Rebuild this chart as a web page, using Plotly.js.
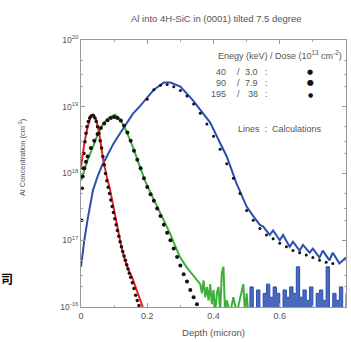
<!DOCTYPE html>
<html><head><meta charset="utf-8">
<script src="https://cdn.plot.ly/plotly-3.0.1.min.js"></script>
<style>html,body{margin:0;padding:0;background:#fff;}#c{width:351px;height:342px;}</style>
</head><body><div id="c"></div>
<script>
// ---- data (depth in micron, concentration in cm^-3) ----
const calc40Depth = [0,0.01,0.02,0.03,0.037,0.045,0.055,0.067,0.078,0.088,0.1,0.112,0.122,0.133,0.144,0.154,0.165,0.175,0.185,0.19];
const calc40Conc  = [1.26e18,2.8e18,5.0e18,7.1e18,7.6e18,6.6e18,4.0e18,1.6e18,8.9e17,5.6e17,2.8e17,1.4e17,7.9e16,5.0e16,3.5e16,2.8e16,2.0e16,1.4e16,1.05e16,8e15];

const calc90Depth = [0,0.02,0.036,0.05,0.067,0.085,0.103,0.12,0.138,0.158,0.178,0.193,0.208,0.224,0.239,0.254,0.269,0.284,0.299,0.318,0.338,0.355,
  0.36,0.365,0.37,0.375,0.38,0.385,0.39,0.395,0.4,0.405,0.41,0.415,0.42,0.425,0.43,0.435,0.44,0.45,0.46,0.47,0.48,0.49,0.495,0.5,0.505];
const calc90Conc  = [7.9e17,1.6e18,2.5e18,3.8e18,5.6e18,6.9e18,7.6e18,6.3e18,4.2e18,2.4e18,1.26e18,7.9e17,5.4e17,3.7e17,2.5e17,1.8e17,1.26e17,8.3e16,5.6e16,4.0e16,3.0e16,2.4e16,
  2.2e16,1.6e16,2.5e16,1.4e16,2.0e16,1.26e16,2.2e16,1.1e16,1.8e16,8e15,1.6e16,2.0e16,8e15,3.2e16,4.0e16,8e15,1.26e16,8e15,1.4e16,8e15,1.26e16,2.2e16,8e15,1.6e16,8e15];

const calc195Depth = [0,0.01,0.021,0.036,0.05,0.063,0.078,0.098,0.118,0.138,0.157,0.18,0.2,0.22,0.239,0.25,0.27,0.3,0.338,0.36,0.39,0.415,0.44,0.47,0.5,0.52,0.54,
  0.55,0.57,0.58,0.6,0.61,0.63,0.64,0.66,0.67,0.69,0.7,0.72,0.73,0.75,0.76,0.78,0.8];
const calc195Conc  = [4e16,1.0e17,2.2e17,5.6e17,9e17,1.3e18,1.8e18,2.8e18,4.0e18,5.6e18,7.9e18,1.05e19,1.4e19,1.8e19,2.1e19,2.3e19,2.3e19,2.0e19,1.25e19,9e18,5.8e18,3.2e18,1.8e18,7e17,3.2e17,2.3e17,1.7e17,
  1.6e17,1.2e17,1.4e17,1.0e17,1.2e17,8e16,9.5e16,7e16,8.5e16,6.5e16,7.5e16,5.5e16,7e16,5e16,6.5e16,4.5e16,5.5e16];

const tail195Depth = [0.5,0.51,0.52,0.53,0.54,0.55,0.56,0.57,0.58,0.59,0.6,0.61,0.62,0.63,0.64,0.65,0.66,0.67,0.68,0.69,0.7,0.71,0.72,0.73,0.74,0.75,0.76,0.77,0.78,0.79,0.8];
const tail195Conc  = [8e15,2.0e16,8e15,1.8e16,8e15,1.6e16,2.2e16,1.4e16,2.0e16,1.6e16,8e15,1.8e16,1.4e16,2.0e16,1.6e16,4.0e16,1.4e16,1.8e16,1.26e16,2.0e16,8e15,1.6e16,1.8e16,1.26e16,4.0e16,8e15,1.6e16,1.26e16,2.0e16,8e15,1.6e16];

const sims40Depth = [0.002,0.004,0.006,0.009,0.012,0.015,0.018,0.022,0.026,0.03,0.034,0.038,0.042,0.046,0.05,0.054,0.058,0.062,0.066,0.07,0.074,0.078,0.082,0.086,0.09,0.094,0.098,0.102,0.106,0.11,0.114,0.118,0.122,0.126,0.13,0.134,0.138,0.142,0.146,0.15,0.155,0.16,0.165,0.17,0.175];
const sims40Conc  = [2.0e17,6e17,1.2e18,2.0e18,3.0e18,4.0e18,5.0e18,6.0e18,6.8e18,7.2e18,7.4e18,7.3e18,6.8e18,6.0e18,5.0e18,4.0e18,3.1e18,2.4e18,1.8e18,1.35e18,1.0e18,7.8e17,6.2e17,5.0e17,4.0e17,3.2e17,2.6e17,2.1e17,1.7e17,1.4e17,1.15e17,9.5e16,8e16,6.8e16,5.8e16,5e16,4.3e16,3.7e16,3.2e16,2.8e16,2.3e16,1.9e16,1.5e16,1.25e16,1.05e16];

const sims90Depth = [0.005,0.01,0.015,0.02,0.03,0.04,0.05,0.06,0.07,0.08,0.09,0.1,0.11,0.12,0.13,0.14,0.15,0.16,0.17,0.18,0.19,0.2,0.21,0.22,0.23,0.24,0.25,0.26,0.27,0.28,0.29,0.3,0.31,0.32,0.33,0.34,0.35,0.36];
const sims90Conc  = [9e17,1.2e18,1.5e18,1.8e18,2.4e18,3.1e18,3.9e18,4.8e18,5.6e18,6.3e18,6.8e18,7.0e18,6.8e18,6.2e18,5.2e18,4.1e18,3.1e18,2.2e18,1.6e18,1.2e18,8.5e17,6.3e17,4.9e17,3.9e17,3.0e17,2.3e17,1.7e17,1.3e17,1.0e17,7.5e16,5.6e16,4.2e16,3.1e16,2.4e16,1.8e16,1.4e16,1.1e16,9e15];

const sims195Depth = [0.2,0.22,0.24,0.26,0.28,0.3,0.32,0.34,0.36,0.38,0.4,0.42,0.44,0.46,0.48,0.5,0.52,0.54,0.56,0.58,0.6,0.62,0.64,0.66,0.68,0.7,0.72,0.74,0.76];
const sims195Conc  = [1.3e19,1.8e19,2.1e19,2.15e19,2.0e19,1.75e19,1.45e19,1.1e19,8e18,5.5e18,3.6e18,2.3e18,1.4e18,8.5e17,5e17,2.8e17,2.0e17,1.5e17,1.2e17,1.05e17,9e16,8e16,7e16,6.5e16,6e16,5.5e16,5e16,4.7e16,4.5e16];

const yTickVals   = [1e16,1e17,1e18,1e19,1e20];
const yTickLabels = ["10<sup>-16</sup>","10<sup>17</sup>","10<sup>18</sup>","10<sup>19</sup>","10<sup>20</sup>"];
const legendEnergy = ["40","90","195"];
const legendDose   = ["3.0","7.9","38"];

// ---- layout helpers (pixel -> paper) ----
const L=81, T=40, W=265, H=267;
const px = x => (x-L)/W;
const py = y => (T+H-y)/H;
const gray = '#555';
const fnt = s => ({family:'Liberation Sans, Arial, sans-serif', size:s, color:gray});

const traces = [
  {x:tail195Depth, y:tail195Conc, mode:'lines', line:{color:'#2a4fb0', width:1, shape:'hv'}, fill:'tozeroy', fillcolor:'rgba(42,79,176,0.85)'},
  {x:calc195Depth, y:calc195Conc, mode:'lines', line:{color:'#2a4fb0', width:2}},
  {x:calc90Depth, y:calc90Conc, mode:'lines', line:{color:'#3fae3a', width:2}},
  {x:calc40Depth, y:calc40Conc, mode:'lines', line:{color:'#e0262a', width:2}},
  {x:sims195Depth, y:sims195Conc, mode:'markers', marker:{color:'#111', size:3}},
  {x:sims90Depth, y:sims90Conc, mode:'markers', marker:{color:'#111', size:4}},
  {x:sims40Depth, y:sims40Conc, mode:'markers', marker:{color:'#2a0a0a', size:3.5}}
];

const ann = [];
ann.push({xref:'paper',yref:'paper',x:px(216),y:py(18),text:'Al into 4H-SiC in (0001) tilted 7.5 degree',showarrow:false,font:fnt(9.5),xanchor:'center',yanchor:'middle'});
ann.push({xref:'paper',yref:'paper',x:px(344),y:py(55),text:'Enegy (keV) / Dose (10<sup>13</sup> cm<sup>-2</sup>)',showarrow:false,font:fnt(9),xanchor:'right',yanchor:'middle'});
const rowY=[72,83,94], dotSize=[7,8,6];
for(let i=0;i<3;i++){
  ann.push({xref:'paper',yref:'paper',x:px(228),y:py(rowY[i]),text:legendEnergy[i],showarrow:false,font:fnt(9),xanchor:'right',yanchor:'middle'});
  ann.push({xref:'paper',yref:'paper',x:px(238),y:py(rowY[i]),text:'/',showarrow:false,font:fnt(9),xanchor:'center',yanchor:'middle'});
  ann.push({xref:'paper',yref:'paper',x:px(260),y:py(rowY[i]),text:legendDose[i],showarrow:false,font:fnt(9),xanchor:'right',yanchor:'middle'});
  ann.push({xref:'paper',yref:'paper',x:px(266),y:py(rowY[i]),text:':',showarrow:false,font:fnt(9),xanchor:'center',yanchor:'middle'});
  ann.push({xref:'paper',yref:'paper',x:px(310),y:py(rowY[i]),text:'●',showarrow:false,font:{family:'DejaVu Sans',size:dotSize[i],color:'#111'},xanchor:'center',yanchor:'middle'});
}
ann.push({xref:'paper',yref:'paper',x:px(280),y:py(129),text:'Lines  :  Calculations',showarrow:false,font:fnt(9),xanchor:'center',yanchor:'middle'});
ann.push({xref:'paper',yref:'paper',x:px(22),y:py(157),text:'Al Concentration (cm<sup>-3</sup>)',textangle:-90,showarrow:false,font:fnt(7.5),xanchor:'center',yanchor:'middle'});
ann.push({xref:'paper',yref:'paper',x:px(-1),y:py(278),text:'<b>司</b>',showarrow:false,font:{family:'Noto Sans CJK SC',size:12,color:'#000'},xanchor:'left',yanchor:'middle'});

const layout = {
  width:351, height:342,
  margin:{l:L, r:351-L-W, t:T, b:342-T-H},
  paper_bgcolor:'#fff', plot_bgcolor:'#fff',
  showlegend:false,
  xaxis:{range:[0,0.8], dtick:0.2, tick0:0, showgrid:false, zeroline:false, showline:true, linecolor:'#999', linewidth:1, mirror:'ticks',
    ticks:'inside', ticklen:4, tickcolor:'#999', tickfont:fnt(9), tickformat:'.1~f',
    minor:{dtick:0.1, ticks:'inside', ticklen:2, tickcolor:'#aaa'},
    title:{text:'Depth (micron)', font:fnt(9.5), standoff:9}},
  yaxis:{type:'log', range:[16,20], tickmode:'array', tickvals:yTickVals, ticktext:yTickLabels, showgrid:false, zeroline:false,
    showline:true, linecolor:'#999', linewidth:1, mirror:'ticks', ticks:'inside', ticklen:4, tickcolor:'#999', tickfont:fnt(8.5),
    minor:{tickmode:'array', tickvals:[2e16,3e16,5e16,2e17,3e17,5e17,2e18,3e18,5e18,2e19,3e19,5e19], ticks:'inside', ticklen:2, tickcolor:'#aaa'}},
  annotations:ann
};
Plotly.newPlot('c', traces, layout, {staticPlot:true, displayModeBar:false});
</script></body></html>
